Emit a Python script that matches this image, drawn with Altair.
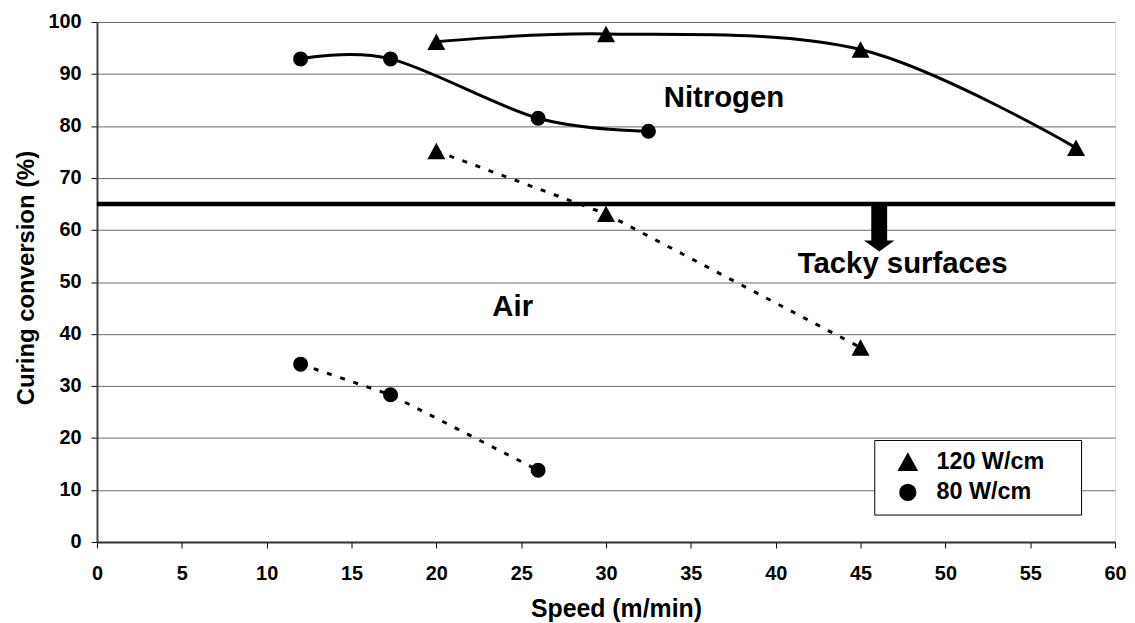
import altair as alt
import pandas as pd

# ---- data ----
speed_n120 = [20, 30, 45, 57.7]
conv_n120 = [96.2, 97.7, 94.7, 75.8]
speed_n80 = [12, 17.3, 26, 32.5]
conv_n80 = [92.9, 92.9, 81.5, 79.0]
speed_a120 = [20, 30, 45]
conv_a120 = [75.2, 63.1, 37.4]
speed_a80 = [12, 17.3, 26]
conv_a80 = [34.2, 28.3, 13.8]

power_labels = ["120 W/cm", "80 W/cm"]
x_ticks = list(range(0, 61, 5))
y_ticks = list(range(0, 101, 10))

threshold = [65]
arrow_x = [46.1]
arrow_top = [65]
arrow_bottom = [57.6]
arrow_head = [56.9]

note_text = ["Nitrogen", "Air", "Tacky surfaces"]
note_x = [33.4, 23.3, 41.3]
note_y = [83.7, 43.4, 51.7]

FONT = "Liberation Sans"
PAD = "\u00a0" * 4 + "\u200b"   # keeps legend box as wide as the reference

rows = []
for atm, power, xs, ys in [
    ("Nitrogen", power_labels[0], speed_n120, conv_n120),
    ("Nitrogen", power_labels[1], speed_n80, conv_n80),
    ("Air", power_labels[0], speed_a120, conv_a120),
    ("Air", power_labels[1], speed_a80, conv_a80),
]:
    for s, c in zip(xs, ys):
        rows.append({"atm": atm, "power": power, "speed": s, "conv": c})
df = pd.DataFrame(rows)

x_enc = alt.X(
    "speed:Q",
    scale=alt.Scale(domain=[0, 60], nice=False, zero=False),
    axis=alt.Axis(
        values=x_ticks, title="Speed (m/min)", grid=False,
        domainColor="#303030", domainWidth=2, tickColor="black", tickSize=6, tickWidth=1,
        labelFont=FONT, labelFontSize=20, labelFontWeight="bold", labelColor="black",
        labelPadding=16, labelFlush=False,
        titleFont=FONT, titleFontSize=25, titleFontWeight="bold", titleColor="black",
        titleX=522, titleY=75, titleBaseline="alphabetic", titleAlign="center",
    ),
)
y_enc = alt.Y(
    "conv:Q",
    scale=alt.Scale(domain=[0, 100], nice=False),
    axis=alt.Axis(
        values=y_ticks, title="Curing conversion (%)", grid=True,
        gridColor="#6a6a6a", gridWidth=1,
        domainColor="#404040", domainWidth=2, tickColor="black", tickSize=6, tickWidth=1,
        labelFont=FONT, labelFontSize=20, labelFontWeight="bold", labelColor="black",
        labelPadding=10,
        titleFont=FONT, titleFontSize=24, titleFontWeight="bold", titleColor="black",
        titleX=-64, titleY=257, titleAngle=270, titleBaseline="alphabetic", titleAlign="center",
    ),
)

tri_path = "M-1.2,1.1L0,-1.1L1.2,1.1Z"
head_path = "M-1,-0.36L1,-0.36L0,0.36Z"

rule = alt.Chart(pd.DataFrame({"conv": threshold})).mark_rule(
    color="black", strokeWidth=4.5
).encode(y=y_enc)

n_lines = alt.Chart(df[df.atm == "Nitrogen"]).mark_line(
    interpolate="cardinal", color="black", strokeWidth=3
).encode(x=x_enc, y=y_enc, detail="power:N")

a_lines = alt.Chart(df[df.atm == "Air"]).mark_line(
    color="black", strokeWidth=3, strokeDash=[5, 9]
).encode(x=x_enc, y=y_enc, detail="power:N")

points = alt.Chart(df).mark_point(
    filled=True, opacity=1, color="black", size=227
).encode(
    x=x_enc, y=y_enc,
    shape=alt.Shape(
        "power:N",
        scale=alt.Scale(domain=power_labels, range=[tri_path, "circle"]),
        legend=alt.Legend(
            orient="none", legendX=781.8, legendY=420.4, title=None,
            fillColor="white", strokeColor="black", padding=10,
            symbolOffset=12, labelOffset=17, symbolSize=300, labelLimit=400,
            labelFont=FONT, labelFontSize=23.5, labelFontWeight="bold", labelColor="black",
            rowPadding=5, labelExpr="datum.label + '" + PAD + "'",
        ),
    ),
)

arrow_df = pd.DataFrame({"speed": arrow_x, "conv": arrow_top, "conv2": arrow_bottom, "head": arrow_head})
shaft = alt.Chart(arrow_df).mark_rule(color="black", strokeWidth=16).encode(
    x=x_enc, y=y_enc, y2="conv2:Q"
)
head = alt.Chart(arrow_df).mark_point(
    shape=head_path, filled=True, opacity=1, color="black", size=942
).encode(x=x_enc, y=alt.Y("head:Q", scale=alt.Scale(domain=[0, 100], nice=False)))

notes = alt.Chart(pd.DataFrame({"speed": note_x, "conv": note_y, "label": note_text})).mark_text(
    align="left", baseline="alphabetic", font=FONT, fontSize=29.5, fontWeight="bold", color="black"
).encode(x=x_enc, y=y_enc, text="label:N")

chart = alt.layer(rule, n_lines, a_lines, points, shaft, head, notes).properties(
    width=1024, height=523,
    autosize=alt.AutoSizeParams(type="none"),
    padding={"left": 89.5, "top": 12.3, "right": 12, "bottom": 79},
).configure_view(stroke="#808080", strokeWidth=1.5).configure(background="white")

chart.save("out.html", embed_options={"renderer": "svg", "actions": False})
